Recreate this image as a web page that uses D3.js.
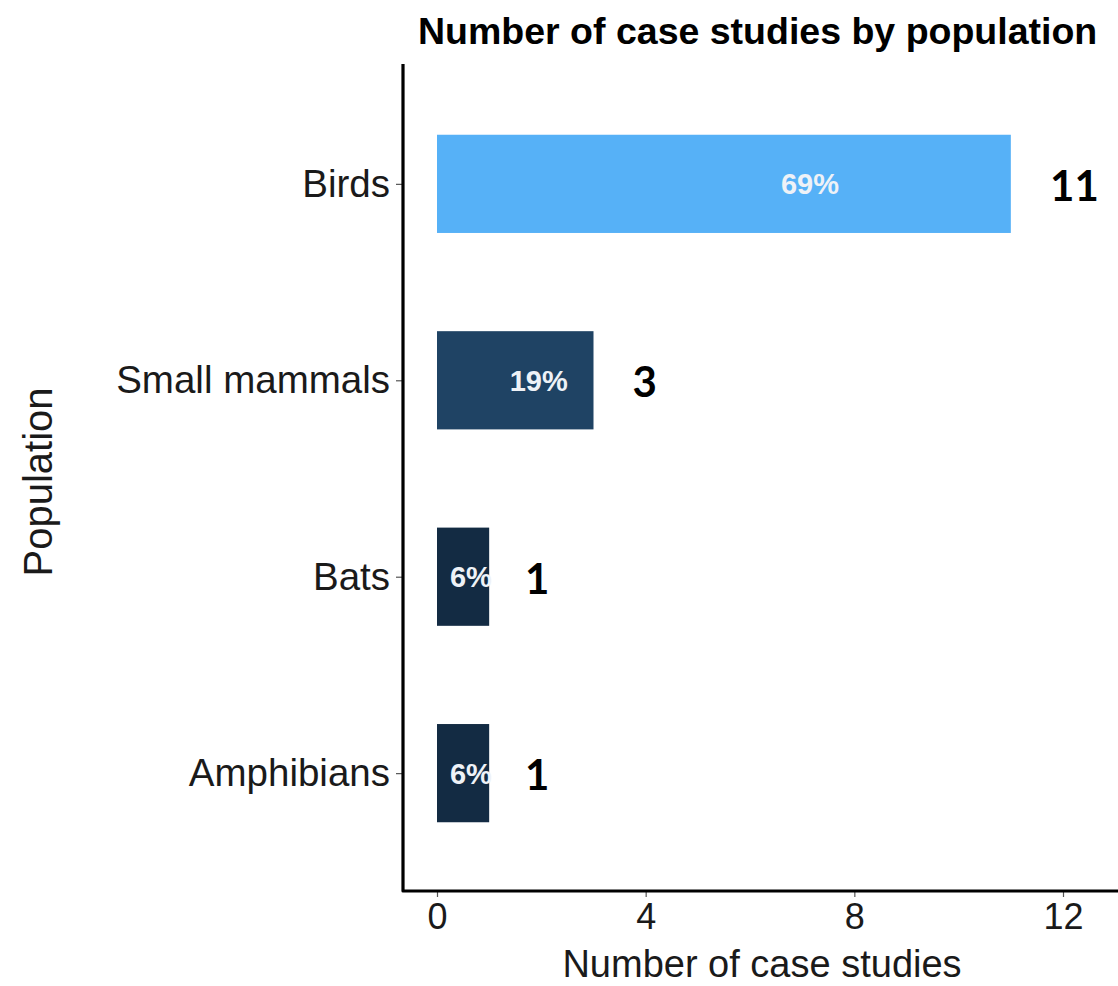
<!DOCTYPE html>
<html>
<head>
<meta charset="utf-8">
<script src="https://cdn.jsdelivr.net/npm/d3@7"></script>
<style>
  html, body { margin: 0; padding: 0; background: #ffffff; }
  svg { display: block; }
</style>
</head>
<body>
<svg id="chart" width="1118" height="986"></svg>
<script>
// Case studies per population group
const categories = ["Birds", "Small mammals", "Bats", "Amphibians"];
const counts = [11, 3, 1, 1];
const xTicks = [0, 4, 8, 12];

const titleText = "Number of case studies by population";
const xTitle = "Number of case studies";
const yTitle = "Population";

const total = d3.sum(counts);
const rows = categories.map((c, i) => ({ name: c, n: counts[i], pct: Math.round(counts[i] / total * 100) }));

const svg = d3.select("#chart");
const W = 1118, H = 986;

// panel geometry
const panel = { left: 403, top: 66, bottom: 891 };

const x = d3.scaleLinear().domain([0, 12]).range([437, 1063]);
const y = d3.scalePoint().domain(categories).range([panel.top, panel.bottom]).padding(0.6);
const barH = y.step() * 0.5;

const fill = d3.scaleLinear()
  .domain([d3.min(counts), d3.max(counts)])
  .range(["#132B43", "#56B1F7"])
  .interpolate(d3.interpolateLab);

// bars
svg.append("g").selectAll("rect").data(rows).join("rect")
  .attr("x", x(0))
  .attr("y", d => y(d.name) - barH / 2)
  .attr("width", d => x(d.n) - x(0))
  .attr("height", barH)
  .attr("fill", d => fill(d.n));

// percentage labels inside bars
svg.append("g").selectAll("text").data(rows).join("text")
  .attr("x", d => x(d.n * 0.65))
  .attr("y", d => y(d.name))
  .attr("dy", "0.36em")
  .attr("text-anchor", "middle")
  .attr("font-family", "Liberation Sans, Arial, sans-serif")
  .attr("font-weight", "bold")
  .attr("font-size", 29)
  .attr("fill", "#eef2f7")
  .text(d => d.pct + "%");

// count labels beside bars
svg.append("g").selectAll("text").data(rows).join("text")
  .attr("x", d => x(d.n * 1.03 + 0.89))
  .attr("y", d => y(d.name) + 2)
  .attr("dy", "0.36em")
  .attr("text-anchor", "middle")
  .attr("font-family", "Lato, sans-serif")
  .attr("font-weight", "bold")
  .attr("font-size", 42)
  .attr("fill", "#000")
  .text(d => d.n);

// y axis
const yAxis = svg.append("g")
  .attr("transform", `translate(${panel.left},0)`)
  .call(d3.axisLeft(y).tickSize(7).tickPadding(6));
yAxis.select(".domain").remove();
yAxis.selectAll(".tick line").attr("stroke", "#555").attr("stroke-width", 1.2);
yAxis.selectAll(".tick text")
  .attr("font-family", "Liberation Sans, Arial, sans-serif")
  .attr("font-size", 38.5)
  .attr("fill", "#1a1a1a");

// x axis
const xAxis = svg.append("g")
  .attr("transform", `translate(0,${panel.bottom})`)
  .call(d3.axisBottom(x).tickValues(xTicks).tickSize(6).tickPadding(6));
xAxis.select(".domain").remove();
xAxis.selectAll(".tick line").attr("stroke", "#555").attr("stroke-width", 1.2);
xAxis.selectAll(".tick text")
  .attr("font-family", "Liberation Sans, Arial, sans-serif")
  .attr("font-size", 36)
  .attr("fill", "#1a1a1a");

// axis lines
svg.append("path")
  .attr("d", `M${panel.left},${panel.top - 2}V${panel.bottom}H${W}`)
  .attr("fill", "none")
  .attr("stroke", "#000")
  .attr("stroke-width", 3.2)
  .attr("stroke-linejoin", "round");

// titles
svg.append("text")
  .attr("x", 418).attr("y", 44)
  .attr("font-family", "Liberation Sans, Arial, sans-serif")
  .attr("font-weight", "bold")
  .attr("font-size", 37.5)
  .attr("fill", "#000")
  .text(titleText);

svg.append("text")
  .attr("x", 762).attr("y", 977)
  .attr("text-anchor", "middle")
  .attr("font-family", "Liberation Sans, Arial, sans-serif")
  .attr("font-size", 38)
  .attr("fill", "#1a1a1a")
  .text(xTitle);

svg.append("text")
  .attr("transform", "translate(52,482) rotate(-90)")
  .attr("text-anchor", "middle")
  .attr("font-family", "Liberation Sans, Arial, sans-serif")
  .attr("font-size", 40)
  .attr("fill", "#1a1a1a")
  .text(yTitle);
</script>
</body>
</html>
